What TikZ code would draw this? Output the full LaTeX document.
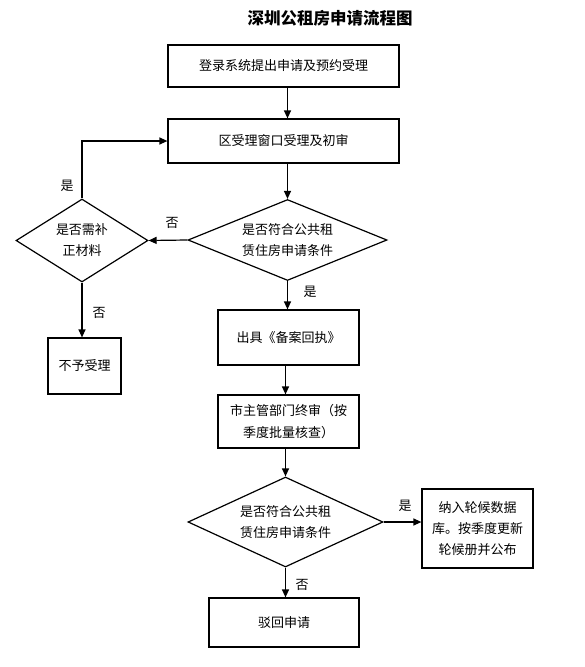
\documentclass[tikz,border=0pt]{standalone}
\usepackage{fontspec}
\newfontfamily\cjk{Noto Sans CJK SC}
\usetikzlibrary{shapes.geometric,arrows.meta}
\tikzset{
  base/.style={font=\cjk\fontsize{13}{21}\selectfont, align=center, inner sep=0pt},
  boxnode/.style={base, draw, line width=1.2pt, rectangle},
  decision/.style={base, draw, line width=1.2pt, diamond},
  lbl/.style={font=\cjk\fontsize{13}{15}\selectfont, inner sep=0pt},
  arr/.style={line width=1.2pt, -{Triangle[length=8pt,width=7pt]}},
}
\begin{document}
\begin{tikzpicture}[x=1pt,y=-1pt]
\useasboundingbox[fill=white] (0,0) rectangle (585,667);
\node[font=\cjk\bfseries\fontsize{16.5}{18}\selectfont, inner sep=0pt] (title) at (330,18) {深圳公租房申请流程图};
\node[boxnode, minimum width=231pt, minimum height=42pt] (b1) at (283.5,66) {登录系统提出申请及预约受理};
\node[boxnode, minimum width=231pt, minimum height=44pt] (b2) at (283.5,141) {区受理窗口受理及初审};
\node[decision, shape aspect=2.46, minimum width=199pt, minimum height=81pt] (d1) at (287.5,240) {是否符合公共租\\赁住房申请条件};
\node[decision, shape aspect=1.59, minimum width=132pt, minimum height=83pt] (d2) at (82,240.5) {是否需补\\正材料};
\node[boxnode, minimum width=73pt, minimum height=56pt] (nb) at (84.5,366) {不予受理};
\node[boxnode, minimum width=141pt, minimum height=55pt] (b3) at (288.5,337.5) {出具《备案回执》};
\node[boxnode, minimum width=141pt, minimum height=53pt, font=\cjk\fontsize{13}{22}\selectfont] (b4) at (288.5,421.5) {市主管部门终审（按\\季度批量核查）};
\node[decision, shape aspect=2.17, minimum width=195pt, minimum height=90pt] (d3) at (285.5,522) {是否符合公共租\\赁住房申请条件};
\node[boxnode, minimum width=111pt, minimum height=79pt] (rb) at (477.5,528.5) {纳入轮候数据\\库。按季度更新\\轮候册并公布};
\node[boxnode, minimum width=150pt, minimum height=49pt] (b5) at (284,622.5) {驳回申请};

\draw[arr] (b1.south -| d1.north) -- (b2.north -| d1.north);
\draw[arr] (b2.south -| d1.north) -- (d1.north);
\draw[arr] (d1.west) -- (d2.east);
\draw[arr] (d2.north) |- (b2.west);
\draw[arr] (d2.south) -- (d2.south |- nb.north);
\draw[arr] (d1.south) -- (d1.south |- b3.north);
\draw[arr] (b3.south -| d3.north) -- (d3.north |- b4.north);
\draw[arr] (b4.south -| d3.north) -- (d3.north);
\draw[arr] (d3.east) -- (d3.east -| rb.west);
\draw[arr] (d3.south) -- (d3.south |- b5.north);

\node[lbl] (l1) at (172,223) {否};
\node[lbl] (l2) at (67,186) {是};
\node[lbl] (l3) at (99,313) {否};
\node[lbl] (l4) at (310,292) {是};
\node[lbl] (l5) at (405,506) {是};
\node[lbl] (l6) at (302,585) {否};
\end{tikzpicture}
\end{document}
